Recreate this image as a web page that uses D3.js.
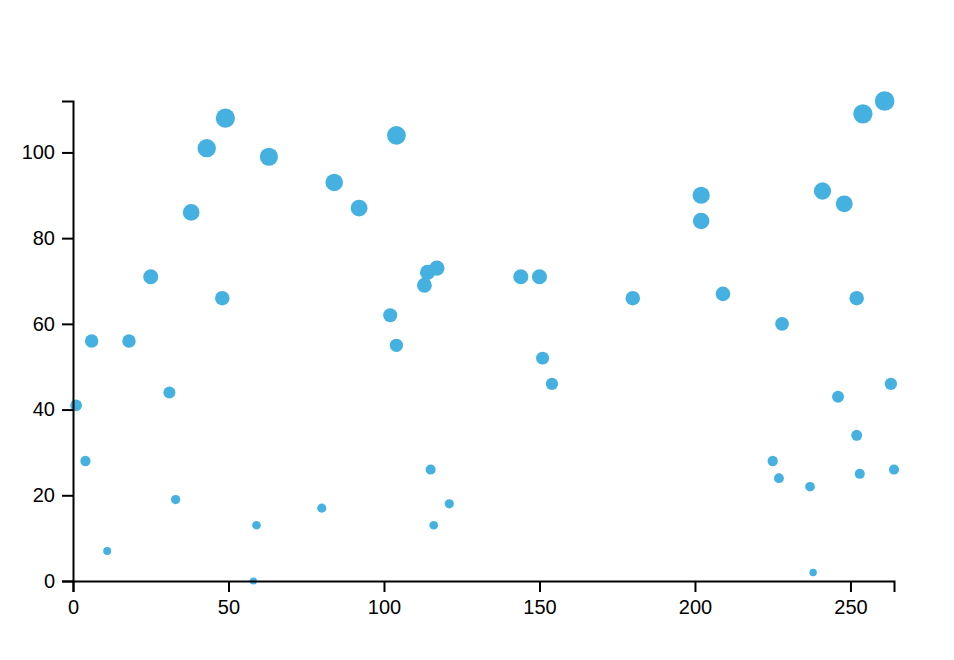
<!DOCTYPE html>
<html>
<head>
<meta charset="utf-8">
<script src="https://cdn.jsdelivr.net/npm/d3@7"></script>
<style>
  html, body { margin: 0; padding: 0; background: #fff; }
  svg { display: block; }
</style>
</head>
<body>
<svg id="chart" width="954" height="660"></svg>
<script>
const xValues = [1, 4, 6, 11, 18, 25, 31, 33, 38, 43, 48, 49, 58, 59, 63, 80, 84, 92, 102, 104, 104, 113, 114, 117, 115, 116, 121, 144, 150, 151, 154, 180, 202, 202, 209, 225, 227, 228, 237, 238, 241, 246, 248, 252, 252, 253, 254, 261, 263, 264];
const yValues = [41, 28, 56, 7, 56, 71, 44, 19, 86, 101, 66, 108, 0, 13, 99, 17, 93, 87, 62, 104, 55, 69, 72, 73, 26, 13, 18, 71, 71, 52, 46, 66, 90, 84, 67, 28, 24, 60, 22, 2, 91, 43, 88, 66, 34, 25, 109, 112, 46, 26];
const xTicks = [0, 50, 100, 150, 200, 250];
const yTicks = [0, 20, 40, 60, 80, 100];

const points = xValues.map((x, i) => ({ x, y: yValues[i] }));

const margin = { top: 101, right: 60, bottom: 79, left: 73 };
const width = 954, height = 660;
const svg = d3.select("#chart");

const x = d3.scaleLinear()
  .domain([0, d3.max(xValues)])
  .range([margin.left, width - margin.right]);
const y = d3.scaleLinear()
  .domain([0, d3.max(yValues)])
  .range([height - margin.bottom, margin.top]);
const r = d3.scaleLinear()
  .domain([0, d3.max(yValues)])
  .range([3.6, 9.8]);

svg.append("g")
  .selectAll("circle")
  .data(points)
  .join("circle")
  .attr("cx", d => x(d.x))
  .attr("cy", d => y(d.y))
  .attr("r", d => r(d.y))
  .attr("fill", "#45b1e0");

const xAxis = svg.append("g")
  .attr("transform", `translate(0,${height - margin.bottom})`)
  .call(d3.axisBottom(x).tickValues(xTicks).tickSize(11).tickPadding(8));
const yAxis = svg.append("g")
  .attr("transform", `translate(${margin.left},0)`)
  .call(d3.axisLeft(y).tickValues(yTicks).tickSize(11).tickPadding(7));

[xAxis, yAxis].forEach(g => {
  g.selectAll("path, line").attr("stroke", "#000").attr("stroke-width", 2);
  g.selectAll("text")
    .attr("fill", "#000")
    .style("font-family", "'Liberation Sans', Arial, Helvetica, sans-serif")
    .style("font-size", "20px");
});
</script>
</body>
</html>
